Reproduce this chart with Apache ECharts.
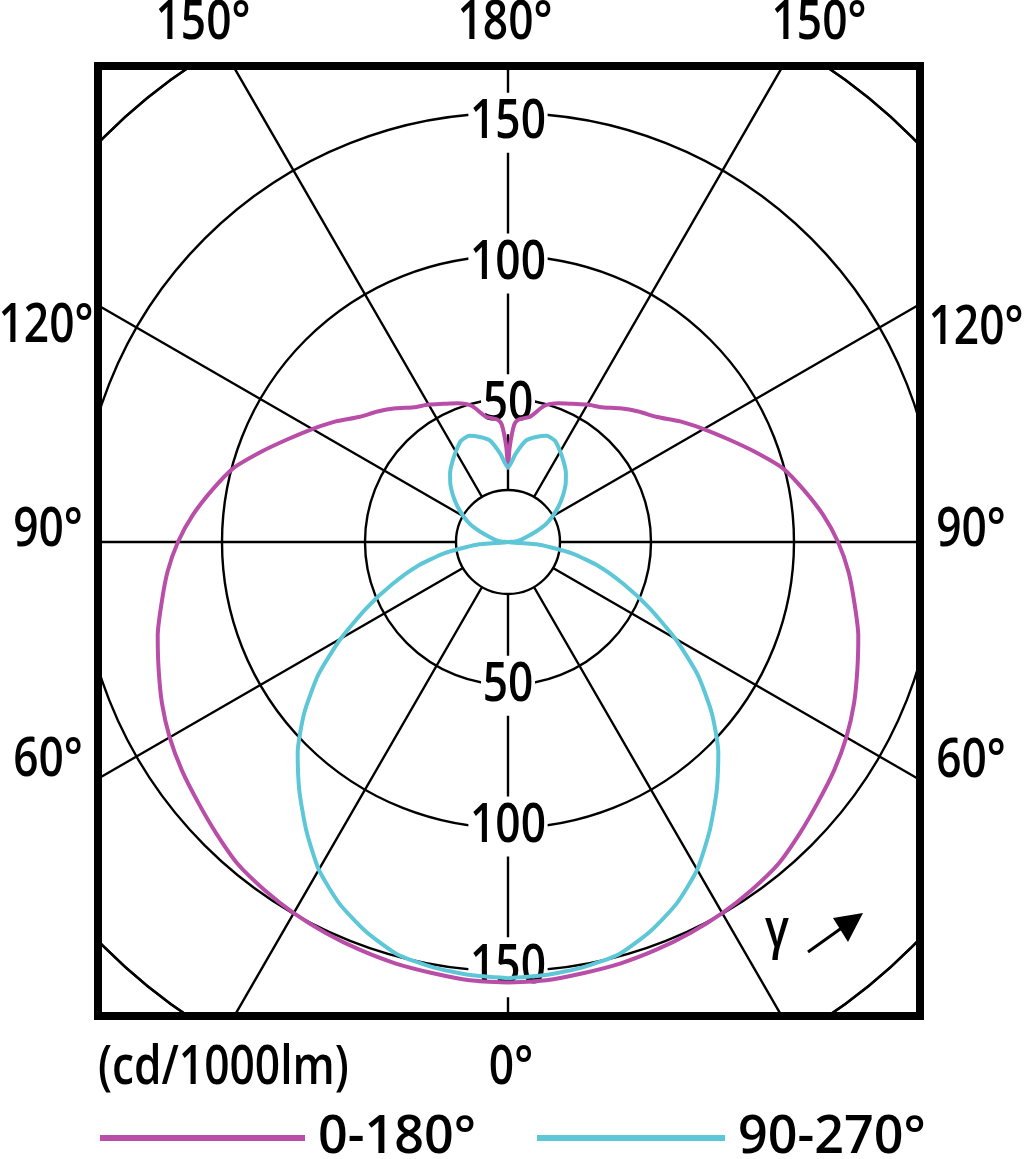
<!DOCTYPE html>
<html><head><meta charset="utf-8">
<script src="https://cdn.jsdelivr.net/npm/echarts@6/dist/echarts.min.js"></script>
<style>html,body{margin:0;padding:0;background:#fff}#c{width:1024px;height:1159px}</style>
</head><body><div id="c"></div>
<script>
// ---- data (gamma in degrees from nadir, intensity in cd/1000lm) ----
const plane0Gamma = [0,5,10,15,20,25,30,35,40,45,50,55,60,65,70,75,80,85,90,95,100,105,110,115,120,125,130,135,140,145,150,155,160,165,170,175,177,179,180];
const plane0Value = [154,153.8,153,152.5,151.7,150.8,149.8,148.5,147,144.2,141.5,139.2,136.6,133.5,130,126.8,123,119.5,115.4,110.5,105,99.5,92,85,79,73.5,68,64.5,61,57.5,55.5,53.3,51.6,49.3,44.5,43,41,33,26];
const plane90Gamma = [0,5,10,15,20,25,30,35,40,45,50,55,60,65,70,75,80,85,90,95,100,105,110,115,120,125,130,135,140,145,150,155,160,165,170,175,180];
const plane90Value = [152.5,152,151,149.3,145,139.5,132.3,123,113.5,104,93,81,67.5,54.5,43,33,22.5,11,0,2.5,4.5,6.5,10,14.5,18,21.5,25,28.5,31.5,34,36.5,39,39.5,38,36,31,26];
const radiusTicks = [50,100,150];
const seriesNames = ['0-180°','90-270°'];
const angleLabels = [
  {t:'150°',x:203,y:24},{t:'180°',x:505,y:24},{t:'150°',x:819,y:24},
  {t:'120°',x:46,y:327},{t:'90°',x:48,y:531},{t:'60°',x:48,y:761},
  {t:'120°',x:976,y:329},{t:'90°',x:971,y:531},{t:'60°',x:971,y:762},
  {t:'0°',x:511,y:1069}
];
const unitLabel = '(cd/1000lm)';

// ---- layout / style ----
const FONT = "'Open Sans','Noto Sans','DejaVu Sans',sans-serif";
const WEIGHT = 600;
const FS = 54, SX = 0.82;
const CX = 508, CY = 542, R = 572;
const MAG = '#b84ea8', CYA = '#5ec7d7', INK = '#000';
const GRID_W = 2.4;

function closedCurve(g, v) {
  const pts = g.map((a, i) => [v[i], a]);                                 // right half: theta = gamma
  for (let i = g.length - 2; i >= 0; i--) pts.push([v[i], 360 - g[i]]);  // left half mirrored
  return pts;
}

const chart = echarts.init(document.getElementById('c'), null, {renderer: 'canvas'});

const legendCommon = {
  orient: 'horizontal', top: 1112, padding: 0, itemHeight: 6, icon: 'rect', z: 200, selectedMode: false,
  textStyle: {fontFamily: FONT, fontWeight: WEIGHT, fontSize: 52, color: INK, lineHeight: 52, padding: [0, 0, 0, 8]}
};

chart.setOption({
  animation: false,
  backgroundColor: '#fff',
  polar: {center: [CX, CY], radius: R},
  angleAxis: {
    type: 'value', min: 0, max: 360, interval: 30, startAngle: 270, clockwise: false,
    axisLine: {show: true, lineStyle: {color: INK, width: GRID_W}},
    axisTick: {show: false}, axisLabel: {show: false},
    splitLine: {show: true, lineStyle: {color: INK, width: GRID_W}}
  },
  radiusAxis: {
    type: 'value', min: 0, max: 200, interval: 50,
    axisLine: {show: false}, axisTick: {show: false}, axisLabel: {show: false},
    splitLine: {show: true, lineStyle: {color: INK, width: GRID_W}}
  },
  legend: [
    Object.assign({}, legendCommon, {left: 100, itemWidth: 205, data: [seriesNames[0]]}),
    Object.assign({}, legendCommon, {left: 537, itemWidth: 188, data: [seriesNames[1]]})
  ],
  series: [
    {name: seriesNames[0], type: 'line', coordinateSystem: 'polar', z: 5, showSymbol: false, symbol: 'none', smooth: 0.25,
     lineStyle: {color: MAG, width: 4}, itemStyle: {color: MAG}, data: closedCurve(plane0Gamma, plane0Value)},
    {name: seriesNames[1], type: 'line', coordinateSystem: 'polar', z: 5, showSymbol: false, symbol: 'none', smooth: 0.2,
     lineStyle: {color: CYA, width: 4}, itemStyle: {color: CYA}, data: closedCurve(plane90Gamma, plane90Value)}
  ]
});

function gText(t, x, y, o) {
  o = o || {};
  const al = o.align || 'center';
  return {
    type: 'text', x: x, y: y, scaleX: SX, z: o.z || 102,
    style: Object.assign({
      text: t, x: 0, y: 0, fill: INK, font: WEIGHT + ' ' + (o.fs || FS) + 'px ' + FONT,
      textAlign: al, align: al, textVerticalAlign: 'middle', verticalAlign: 'middle'
    }, o.style || {})
  };
}

const center = chart.convertToPixel({seriesIndex: 0}, [0, 0]);
const graphics = [
  {type: 'circle', z: 1, shape: {cx: center[0], cy: center[1], r: 52}, style: {fill: '#fff', stroke: INK, lineWidth: GRID_W}},
  {type: 'rect', z: 100, shape: {x: 0, y: 0, width: 1024, height: 62}, style: {fill: '#fff'}},
  {type: 'rect', z: 100, shape: {x: 0, y: 0, width: 94, height: 1159}, style: {fill: '#fff'}},
  {type: 'rect', z: 100, shape: {x: 924, y: 0, width: 100, height: 1159}, style: {fill: '#fff'}},
  {type: 'rect', z: 100, shape: {x: 0, y: 1020, width: 1024, height: 139}, style: {fill: '#fff'}},
  {type: 'rect', z: 101, shape: {x: 98, y: 66, width: 822, height: 950}, style: {fill: null, stroke: '#000', lineWidth: 8}},
  {type: 'line', z: 50, shape: {x1: 808, y1: 952, x2: 843, y2: 927}, style: {stroke: '#000', lineWidth: 3}},
  {type: 'polygon', z: 50, shape: {points: [[863, 913], [833, 918], [848, 942]]}, style: {fill: '#000'}},
  gText('γ', 777, 932, {z: 50})
];
// radius tick labels on the vertical axis (top: 180°, bottom: 0°), positioned through the polar scale
radiusTicks.forEach(r => {
  [[180, 3 + 0.045 * r], [0, 3 - 0.045 * r]].forEach(([ang, dy]) => {
    const p = chart.convertToPixel({seriesIndex: 0}, [r, ang]);
    graphics.push(gText(String(r), p[0], p[1] + dy, {z: 3,
      style: {backgroundColor: '#fff', padding: [4, 2, 8, 2], lineHeight: 48}}));
  });
});
angleLabels.forEach(l => graphics.push(gText(l.t, l.x, l.y)));
graphics.push(gText(unitLabel, 98, 1069, {align: 'left'}));

chart.setOption({graphic: {elements: graphics}});
</script></body></html>
